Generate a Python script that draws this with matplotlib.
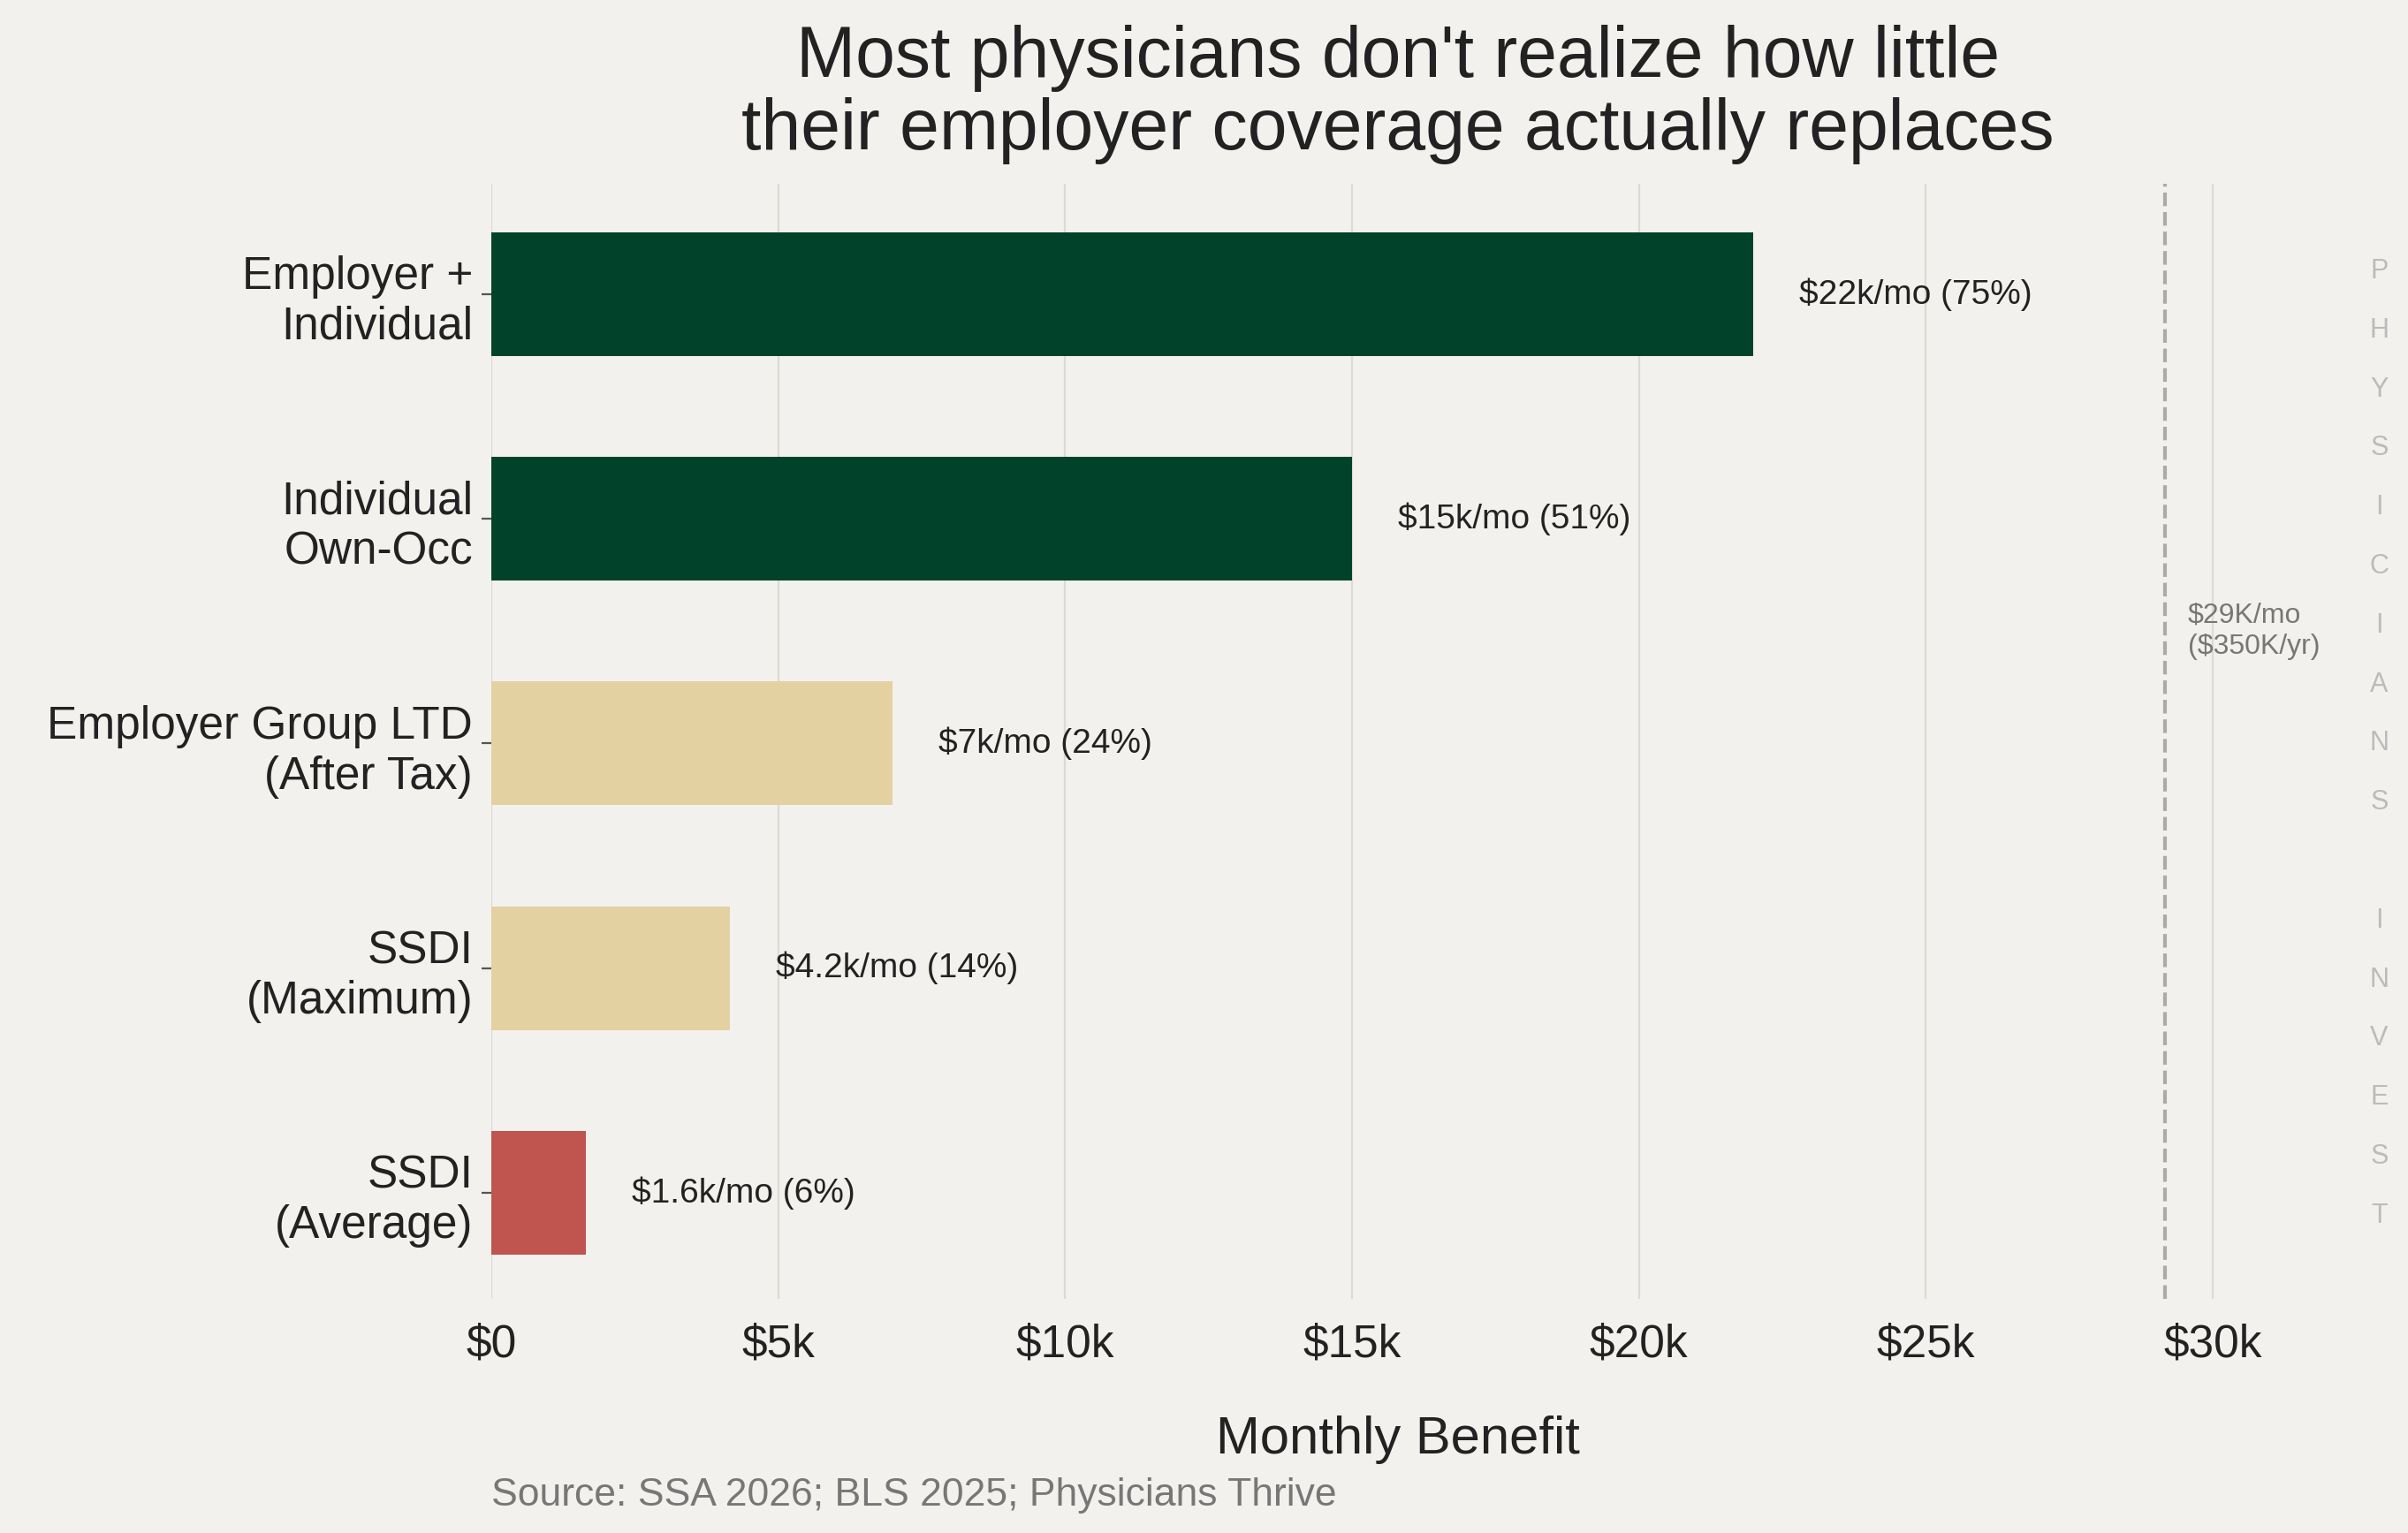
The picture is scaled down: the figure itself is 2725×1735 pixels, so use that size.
import matplotlib.pyplot as plt

categories = ['Employer +\nIndividual', 'Individual\nOwn-Occ', 'Employer Group LTD\n(After Tax)',
              'SSDI\n(Maximum)', 'SSDI\n(Average)']
values = [22000, 15000, 7000, 4167, 1650]
labels = ['$22k/mo (75%)', '$15k/mo (51%)', '$7k/mo (24%)', '$4.2k/mo (14%)', '$1.6k/mo (6%)']
colors = ['#00432A', '#00432A', '#E3D1A1', '#E3D1A1', '#C0544E']
income_line = 350000 / 12
xticks = [0, 5000, 10000, 15000, 20000, 25000, 30000]
xticklabels = ['$0', '$5k', '$10k', '$15k', '$20k', '$25k', '$30k']

plt.rcParams['font.family'] = ['Liberation Sans', 'DejaVu Sans']
bg = '#F3F1ED'
fig = plt.figure(figsize=(13.625, 8.675), dpi=200, facecolor=bg)
ax = fig.add_axes([0.204, 0.153, 0.753, 0.727], facecolor=bg)

ypos = list(range(len(categories)))[::-1]
ax.barh(ypos, values, height=0.55, color=colors, zorder=2)
for y, v, t in zip(ypos, values, labels):
    ax.text(v + 800, y, t, va='center', ha='left', fontsize=14, color='#222222')

ax.axvline(income_line, color='#AAAAAA', ls='--', lw=1.5, zorder=1)
ax.text(income_line + 400, 2.5, '$29K/mo\n($350K/yr)', fontsize=11.5, color='#777777', va='center')

ax.set_xlim(0, 31600)
ax.set_ylim(-0.47, 4.49)
ax.set_yticks(ypos)
ax.set_yticklabels(categories, fontsize=18.5, color='#222222')
ax.set_xticks(xticks)
ax.set_xticklabels(xticklabels, fontsize=18.5, color='#222222')
ax.tick_params(axis='x', length=0, pad=10)
ax.tick_params(axis='y', length=4, color='#555555')
ax.grid(axis='x', color='#DDDAD5', lw=0.8, zorder=0)
for s in ax.spines.values():
    s.set_visible(False)
ax.set_xlabel('Monthly Benefit', fontsize=21.5, color='#222222', labelpad=20)
ax.set_title("Most physicians don't realize how little\ntheir employer coverage actually replaces",
             fontsize=29, color='#222222', pad=14, linespacing=1.1)

fig.text(0.204, 0.018, 'Source: SSA 2026; BLS 2025; Physicians Thrive', fontsize=16, color='#777777')

letters = 'PHYSICIANS INVEST'
for i, ch in enumerate(letters):
    fig.text(0.988, 0.823 - i * 0.0385, ch, fontsize=11, color='#BBBBBB', ha='center', va='center')

fig.savefig('out.png', dpi=200, facecolor=bg)
